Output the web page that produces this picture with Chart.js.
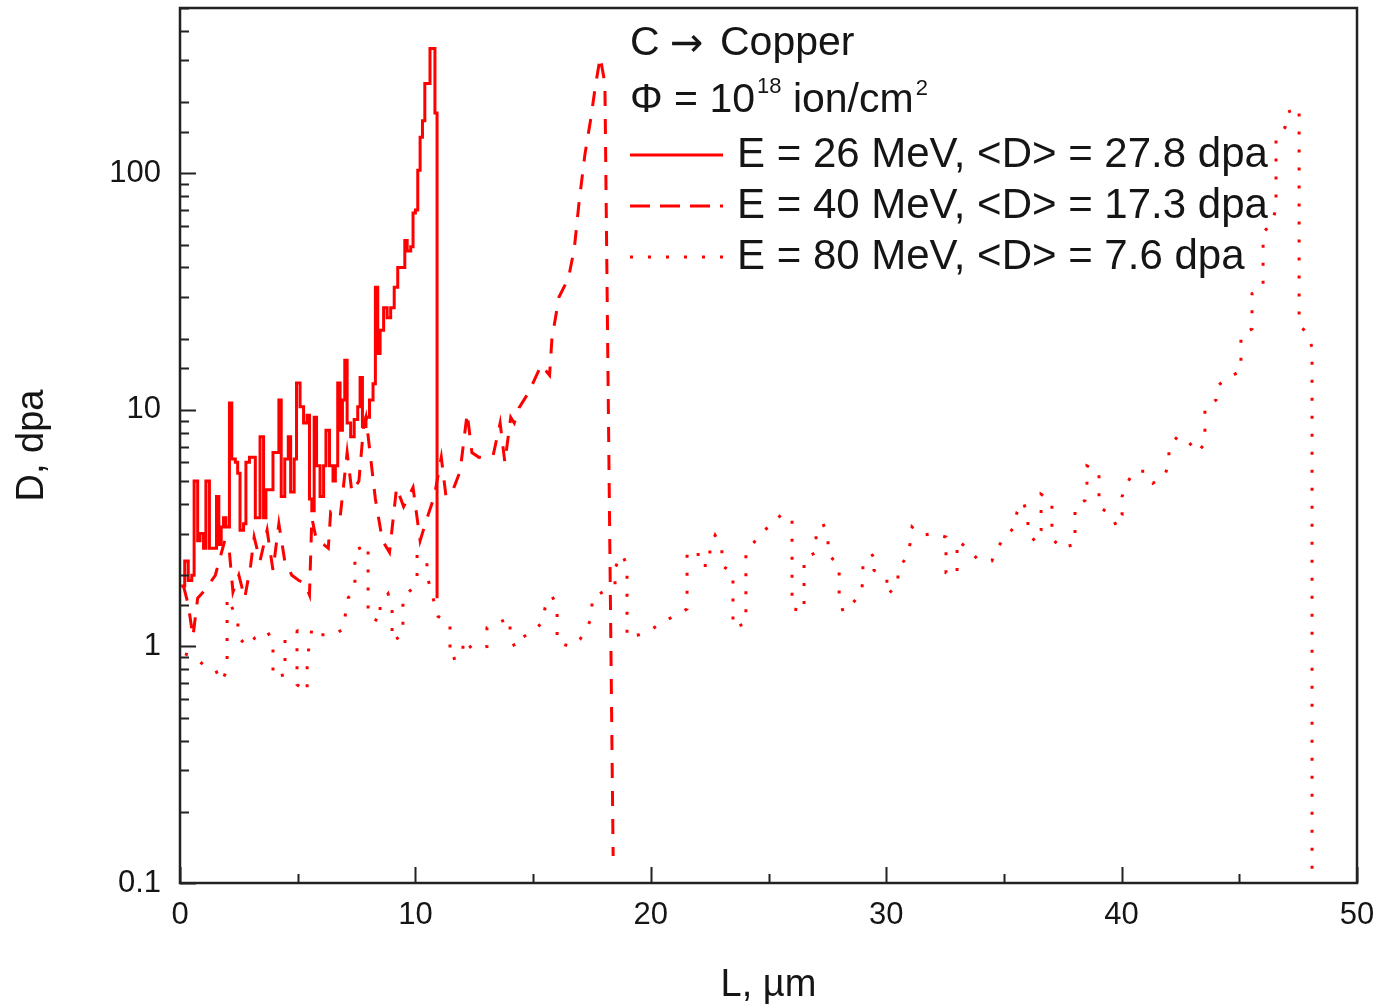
<!DOCTYPE html>
<html>
<head>
<meta charset="utf-8">
<title>C → Copper, damage profile</title>
<script src="https://cdn.jsdelivr.net/npm/chart.js@4.4.1/dist/chart.umd.min.js"></script>
<style>
    html, body { margin: 0; padding: 0; background: #fff; }
    canvas { display: block; }
</style>
</head>
<body>
<canvas id="doseChart" width="1383" height="1005"></canvas>
<script>
// depth L (µm) and damage D (dpa)
const depth26 = [0.05, 0.2, 0.35, 0.5, 0.6, 0.75, 0.85, 1.0, 1.1, 1.25, 1.4, 1.55, 1.65, 1.75, 1.85,
    1.95, 2.1, 2.2, 2.35, 2.45, 2.55, 2.7, 2.8, 2.95, 3.1, 3.2, 3.4, 3.55, 3.65, 3.85,
    3.95, 4.2, 4.3, 4.45, 4.6, 4.7, 4.85, 4.95, 5.1, 5.25, 5.4, 5.5, 5.6, 5.7, 5.8,
    5.95, 6.1, 6.2, 6.35, 6.5, 6.6, 6.7, 6.8, 6.9, 7.0, 7.1, 7.25, 7.4, 7.55, 7.65,
    7.75, 7.9, 8.05, 8.2, 8.3, 8.4, 8.5, 8.65, 8.8, 8.95, 9.1, 9.25, 9.4, 9.55, 9.65,
    9.8, 9.9, 10.0, 10.1, 10.2, 10.3, 10.4, 10.62, 10.75, 10.83, 10.92];
const dose26 = [1.8, 2.3, 1.9, 2.0, 5.0, 2.8, 3.0, 2.6, 5.0, 2.6, 2.6, 4.3, 2.7, 3.2, 3.5,
    3.2, 10.7, 6.2, 6.0, 5.4, 3.1, 3.3, 6.0, 6.3, 6.3, 3.5, 7.7, 3.5, 4.6, 4.6,
    6.6, 11.0, 4.3, 6.2, 7.7, 4.5, 6.2, 13.0, 10.3, 8.8, 9.5, 4.2, 3.75, 9.3, 5.8,
    4.3, 5.8, 8.2, 5.8, 5.0, 5.8, 13.0, 8.2, 11, 16.2, 8.8, 7.7, 9.1, 10.3, 13.7,
    8.5, 9.3, 11, 12.9, 33, 17.3, 21.7, 27, 24.5, 27, 33, 40, 40, 52, 47,
    49, 68, 70, 103, 142, 167, 240, 337, 337, 180, 1.6];

const depth40 = [0.15, 0.35, 0.55, 0.75, 1.1, 1.5, 1.9, 2.1, 2.25, 2.5, 2.75, 3.0, 3.15, 3.4, 3.7,
    3.95, 4.2, 4.45, 4.75, 5.05, 5.3, 5.5, 5.6, 5.8, 6.1, 6.3, 6.4, 6.8, 7.1, 7.3,
    7.6, 7.8, 7.9, 8.3, 8.6, 8.9, 9.2, 9.5, 9.9, 10.2, 10.5, 10.8, 11.1, 11.3, 11.6,
    11.9, 12.2, 12.4, 12.7, 13.3, 13.6, 13.8, 14.05, 14.2, 14.4, 14.8, 15.1, 15.35, 15.7, 15.8,
    16.1, 16.5, 16.75, 16.95, 17.2, 17.45, 17.65, 17.85, 18.05, 18.4];
const dose40 = [1.8, 1.5, 1.1, 1.6, 1.75, 2.0, 2.8, 2.5, 1.7, 2.0, 1.6, 2.2, 2.9, 2.3, 3.1,
    2.1, 3.3, 2.3, 2.0, 1.9, 1.85, 1.65, 3.5, 2.8, 2.7, 2.6, 3.7, 3.5, 6.6, 4.5,
    5.0, 8.5, 9.3, 4.2, 2.8, 2.5, 4.7, 3.9, 4.7, 2.8, 3.5, 4.3, 6.3, 4.3, 4.6,
    5.5, 9.7, 6.6, 6.3, 6.4, 8.8, 6.0, 9.3, 8.8, 10.2, 11.8, 13.7, 15.5, 14, 20,
    30, 36, 48, 75, 120, 170, 235, 310, 240, 0.13];

const depth80 = [0.21, 0.55, 0.98, 1.49, 1.78, 2.0, 2.0, 2.46, 2.46, 2.85, 3.19, 3.7, 3.95, 3.95, 4.46,
    4.46, 4.97, 4.97, 5.4, 5.4, 5.61, 5.95, 6.5, 6.92, 7.14, 7.43, 7.43, 7.99, 7.99, 8.5,
    8.5, 8.84, 9.01, 9.01, 9.47, 9.47, 9.86, 10.07, 10.07, 10.49, 10.49, 10.96, 11.47, 11.47, 12.02,
    12.02, 12.45, 13.04, 13.04, 13.51, 14.02, 14.02, 14.23, 14.53, 15.0, 15.38, 15.51, 15.8, 16.02, 16.02,
    16.57, 16.99, 17.29, 17.5, 17.5, 17.97, 18.48, 18.48, 18.78, 18.99, 18.99, 19.5, 20.09, 20.52, 21.03,
    21.54, 21.54, 22.01, 22.01, 22.51, 22.51, 22.73, 23.02, 23.02, 23.49, 23.49, 24.04, 24.04, 24.38, 24.72,
    25.19, 25.53, 26.0, 26.0, 26.51, 26.51, 27.02, 27.02, 27.32, 27.53, 27.53, 28.0, 28.0, 28.17, 28.55,
    28.93, 29.01, 29.01, 29.48, 29.48, 30.03, 30.03, 30.5, 30.5, 30.84, 31.01, 31.1, 31.52, 31.99, 32.54,
    32.54, 33.01, 33.01, 33.48, 33.86, 34.49, 34.71, 35.05, 35.39, 35.56, 35.81, 36.02, 36.02, 36.36, 36.58,
    36.58, 37.04, 37.04, 37.38, 38.02, 38.02, 38.45, 38.53, 38.53, 39.04, 39.04, 39.55, 39.8, 40.02, 40.02,
    40.23, 40.53, 41.04, 41.33, 41.8, 42.01, 42.01, 42.4, 42.86, 43.2, 43.54, 43.54, 44.01, 44.1, 44.52,
    45.07, 45.07, 45.54, 45.54, 46.01, 46.01, 46.39, 46.56, 46.56, 46.94, 47.03, 47.54, 47.54, 47.88, 48.09,
    48.09];
const dose80 = [0.93, 0.91, 0.84, 0.8, 0.71, 0.8, 1.61, 1.3, 1.1, 1.0, 1.09, 1.16, 1.05, 0.74, 0.76,
    1.09, 1.16, 0.69, 0.64, 0.88, 1.2, 1.12, 1.12, 1.18, 1.6, 1.77, 2.55, 2.7, 1.34, 1.27,
    1.52, 1.67, 1.46, 1.05, 1.12, 1.62, 1.75, 1.98, 2.4, 2.4, 2.0, 1.34, 1.26, 0.88, 0.91,
    1.07, 0.97, 1.0, 1.2, 1.26, 1.32, 1.1, 0.99, 1.09, 1.16, 1.26, 1.46, 1.64, 1.46, 1.04,
    1.0, 1.07, 1.2, 1.34, 1.61, 1.7, 1.82, 2.15, 2.45, 2.2, 1.09, 1.12, 1.19, 1.27, 1.35,
    1.44, 2.45, 2.55, 2.2, 2.2, 2.6, 2.95, 2.6, 2.2, 2.04, 1.2, 1.25, 2.5, 2.75, 3.05,
    3.3, 3.6, 3.5, 1.45, 1.4, 2.35, 2.5, 3.0, 3.3, 2.9, 2.45, 2.2, 1.62, 1.4, 1.52,
    1.66, 1.9, 2.3, 2.45, 2.1, 1.95, 1.66, 1.8, 2.15, 2.35, 2.7, 3.2, 2.95, 3.0, 2.9,
    2.05, 2.0, 2.8, 2.6, 2.35, 2.3, 2.6, 2.9, 3.15, 3.7, 4.1, 3.6, 3.05, 2.75, 3.1,
    4.4, 4.1, 2.9, 2.6, 2.7, 3.9, 4.15, 4.9, 5.8, 5.5, 3.9, 3.6, 3.2, 3.6, 4.3,
    4.9, 5.5, 5.5, 4.9, 5.2, 5.9, 7.0, 7.75, 7.3, 6.6, 7.2, 10.3, 11.0, 12.7, 13.7,
    14.6, 20.7, 22.0, 31.0, 33.0, 56.0, 62.0, 71.0, 142, 156, 181, 190, 23.0, 21.0, 18.4,
    0.1];

const seriesLabels = ['E = 26 MeV, <D> = 27.8 dpa', 'E = 40 MeV, <D> = 17.3 dpa', 'E = 80 MeV, <D> = 7.6 dpa'];
const xTickLabels = [0, 10, 20, 30, 40, 50];
const yTickLabels = [0.1, 1, 10, 100];

const RED = 'rgb(255, 0, 0)';
const INK = '#151515';
const FONT = '"Liberation Sans", Arial, sans-serif';

function toPoints(xs, ys) {
    return xs.map((x, i) => ({ x: x, y: ys[i] }));
}

function isDecade(v) {
    const l = Math.log10(v);
    return Math.abs(l - Math.round(l)) < 1e-9;
}

// inward ticks + closed frame, like the original plot
const frameAndTicks = {
    id: 'frameAndTicks',
    afterDraw(chart) {
        const { ctx, chartArea: a, scales: { x, y } } = chart;
        ctx.save();
        ctx.strokeStyle = '#222';
        ctx.lineWidth = 2;
        ctx.beginPath();
        x.ticks.forEach(t => {
            const px = Math.round(x.getPixelForValue(t.value)) + 0.5;
            const len = t.value % 10 === 0 ? 16 : 9;
            ctx.moveTo(px, a.bottom);
            ctx.lineTo(px, a.bottom - len);
        });
        y.ticks.forEach(t => {
            if (t.value < 0.1 || t.value > 500) return;
            const py = Math.round(y.getPixelForValue(t.value)) + 0.5;
            const len = isDecade(t.value) ? 16 : 9;
            ctx.moveTo(a.left, py);
            ctx.lineTo(a.left + len, py);
        });
        ctx.stroke();
        ctx.lineWidth = 2.5;
        ctx.strokeRect(a.left, a.top, a.right - a.left, a.bottom - a.top);
        ctx.restore();
    }
};

// header text and line legend in the upper right of the plot
const legendBlock = {
    id: 'legendBlock',
    afterDraw(chart) {
        const { ctx } = chart;
        const x0 = 630;
        ctx.save();
        ctx.fillStyle = INK;
        ctx.textBaseline = 'middle';
        ctx.textAlign = 'left';

        ctx.font = `41px ${FONT}`;
        ctx.fillText('C', x0, 44);
        ctx.font = `40px "DejaVu Sans", ${FONT}`;
        ctx.fillText('\u2192', x0 + 40, 46);
        ctx.font = `41px ${FONT}`;
        ctx.fillText('Copper', x0 + 90, 44);

        let cx = x0;
        const rowY = 101;
        ctx.fillText('\u03A6 = 10', cx, rowY);
        cx += ctx.measureText('\u03A6 = 10').width + 2;
        ctx.font = `22px ${FONT}`;
        ctx.fillText('18', cx, rowY - 14);
        cx += ctx.measureText('18').width;
        ctx.font = `41px ${FONT}`;
        ctx.fillText(' ion/cm', cx, rowY);
        cx += ctx.measureText(' ion/cm').width + 2;
        ctx.font = `22px ${FONT}`;
        ctx.fillText('2', cx, rowY - 12);

        ctx.font = `42px ${FONT}`;
        chart.data.datasets.forEach((ds, i) => {
            const ly = 155 + i * 51;
            ctx.save();
            ctx.strokeStyle = ds.borderColor;
            ctx.lineWidth = ds.borderWidth;
            ctx.setLineDash(ds.legendDash || []);
            ctx.beginPath();
            ctx.moveTo(x0, ly);
            ctx.lineTo(x0 + 93, ly);
            ctx.stroke();
            ctx.restore();
            ctx.fillText(ds.label, 737, ly);
        });
        ctx.restore();
    }
};

const ctx = document.getElementById('doseChart').getContext('2d');
new Chart(ctx, {
    type: 'line',
    data: {
        datasets: [
            {
                label: seriesLabels[0],
                data: toPoints(depth26, dose26),
                borderColor: RED,
                borderWidth: 3,
                stepped: 'before',
                legendDash: []
            },
            {
                label: seriesLabels[1],
                data: toPoints(depth40, dose40),
                borderColor: RED,
                borderWidth: 3,
                borderDash: [15, 13],
                legendDash: [20, 10]
            },
            {
                label: seriesLabels[2],
                data: toPoints(depth80, dose80),
                borderColor: RED,
                borderWidth: 3,
                borderDash: [3, 15],
                legendDash: [3, 15]
            }
        ]
    },
    options: {
        responsive: false,
        animation: false,
        events: [],
        layout: { padding: { top: 8, right: 26, bottom: 0, left: 0 } },
        elements: {
            point: { radius: 0 },
            line: { tension: 0, fill: false }
        },
        plugins: {
            legend: { display: false },
            tooltip: { enabled: false }
        },
        scales: {
            x: {
                type: 'linear',
                min: 0,
                max: 50,
                grid: { display: false, drawTicks: false },
                border: { display: false },
                ticks: {
                    stepSize: 5,
                    padding: 14,
                    maxRotation: 0,
                    autoSkip: false,
                    color: INK,
                    font: { family: FONT, size: 31 },
                    callback: v => xTickLabels.includes(v) ? String(v) : ''
                },
                title: {
                    display: true,
                    text: 'L, \u00B5m',
                    color: INK,
                    font: { family: FONT, size: 38, lineHeight: 1 },
                    padding: { top: 0, bottom: 0 }
                },
                afterFit: scale => {
                    scale.height = 122;
                    scale.paddingLeft = 0;
                    scale.paddingRight = 0;
                }
            },
            y: {
                type: 'logarithmic',
                min: 0.1,
                max: 500,
                grid: { display: false, drawTicks: false },
                border: { display: false },
                ticks: {
                    padding: 19,
                    autoSkip: false,
                    color: INK,
                    font: { family: FONT, size: 31 },
                    callback: v => yTickLabels.some(t => Math.abs(t - v) < 1e-9) ? String(v) : ''
                },
                title: {
                    display: true,
                    text: 'D, dpa',
                    color: INK,
                    font: { family: FONT, size: 38, lineHeight: 1 },
                    padding: { top: 14, bottom: 0 }
                },
                afterFit: scale => {
                    scale.width = 180;
                    scale.paddingTop = 0;
                    scale.paddingBottom = 0;
                }
            }
        }
    },
    plugins: [frameAndTicks, legendBlock]
});
</script>
</body>
</html>
